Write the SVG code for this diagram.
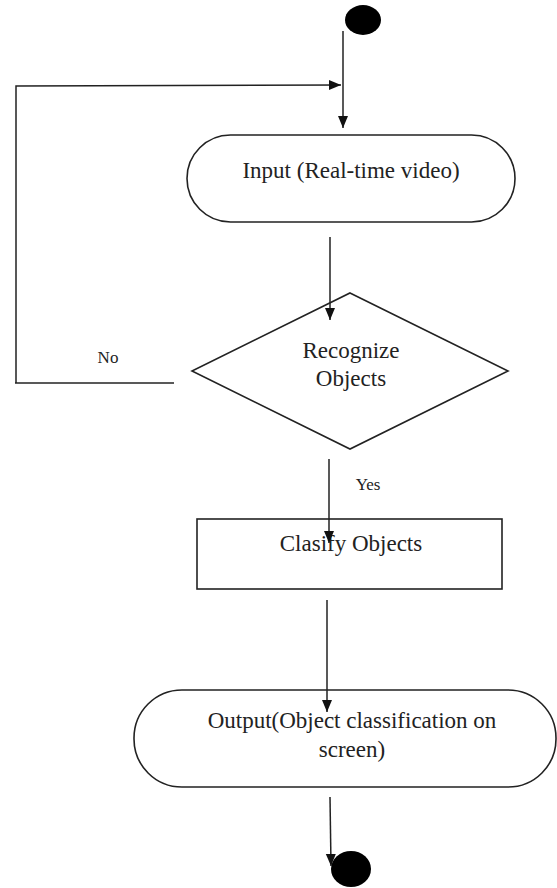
<svg xmlns="http://www.w3.org/2000/svg" width="557" height="888" viewBox="0 0 557 888">
<style>
.shape{fill:#fff;stroke:#222;stroke-width:1.6}
.conn{fill:none;stroke:#222;stroke-width:1.5}
.t{font-family:"Liberation Serif","Times New Roman",serif;font-size:23px;fill:#222;text-anchor:middle}
.lbl{font-family:"Liberation Serif","Times New Roman",serif;font-size:17px;fill:#222;text-anchor:middle}
</style>
<defs>
<marker id="ah" viewBox="0 0 12 12" refX="12" refY="6" markerWidth="12" markerHeight="12" markerUnits="userSpaceOnUse" orient="auto">
<path d="M0,1 L12,6 L0,11 Z" fill="#111"/>
</marker>
</defs>
<rect width="557" height="888" fill="#fff"/>
<g id="start">
<ellipse cx="363" cy="20" rx="18" ry="15" fill="#000"/>
</g>
<g id="input">
<rect class="shape" x="187" y="135" width="328" height="87" rx="43.5" ry="43.5"/>
<text class="t" x="351" y="178">Input (Real-time video)</text>
</g>
<g id="recognize">
<polygon class="shape" points="350,293 508,371 350,449 192,371"/>
<text class="t" x="351" y="358">Recognize</text>
<text class="t" x="351" y="386">Objects</text>
</g>
<g id="classify">
<rect class="shape" x="197" y="519" width="305" height="70"/>
<text class="t" x="351" y="551">Clasify Objects</text>
</g>
<g id="output">
<rect class="shape" x="134" y="690" width="422" height="97" rx="48" ry="48"/>
<text class="t" x="352" y="728">Output(Object classification on</text>
<text class="t" x="352" y="757">screen)</text>
</g>
<g id="end">
<ellipse cx="351" cy="869" rx="20" ry="18" fill="#000"/>
</g>
<g id="connectors">
<line class="conn" x1="343" y1="31" x2="343" y2="128" marker-end="url(#ah)"/>
<polyline class="conn" points="16,383 16,86 341,85" marker-end="url(#ah)"/>
<line class="conn" x1="15" y1="383" x2="174" y2="383"/>
<line class="conn" x1="330" y1="237" x2="330" y2="320" marker-end="url(#ah)"/>
<line class="conn" x1="329" y1="459" x2="329" y2="543" marker-end="url(#ah)"/>
<line class="conn" x1="327" y1="600" x2="327" y2="712" marker-end="url(#ah)"/>
<line class="conn" x1="330" y1="797" x2="331" y2="866" marker-end="url(#ah)"/>
<text class="lbl" x="108" y="363">No</text>
<text class="lbl" x="368" y="490">Yes</text>
</g>
</svg>
